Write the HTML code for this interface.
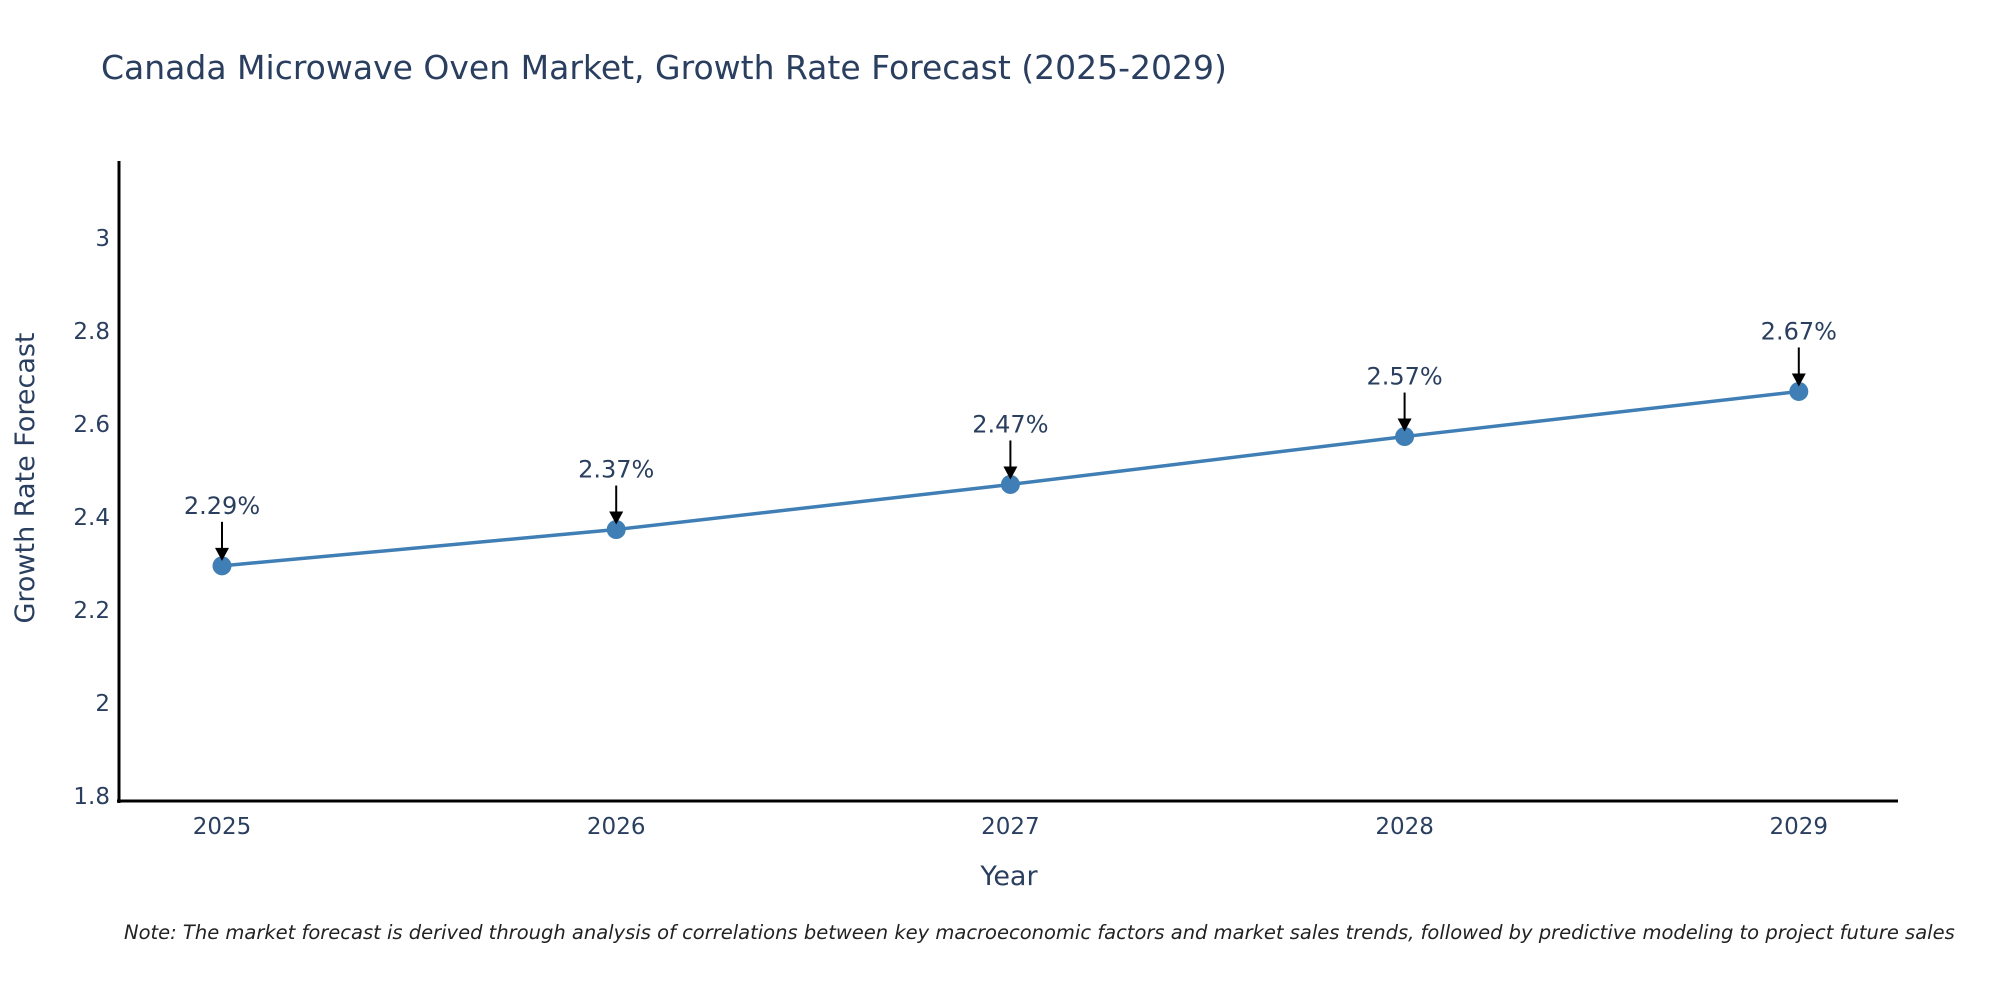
<!DOCTYPE html>
<html><head><meta charset="utf-8"><style>
body{margin:0;background:#fff;}
svg text{font-family:"DejaVu Sans","Liberation Sans",sans-serif;}
</style></head><body>
<svg id="chart" width="2000" height="1000" xmlns="http://www.w3.org/2000/svg">
<rect width="2000" height="1000" fill="#fff"/>
<text x="101" y="79" font-size="33" fill="#2a3f5f">Canada Microwave Oven Market, Growth Rate Forecast (2025-2029)</text>
<g id="yticks"></g><g id="xticks"></g>
<line x1="119" y1="161" x2="119" y2="803" stroke="#000" stroke-width="3"/>
<line x1="117" y1="801" x2="1898" y2="801" stroke="#000" stroke-width="3"/>
<text transform="translate(34,478) rotate(-90)" text-anchor="middle" font-size="27" fill="#2a3f5f">Growth Rate Forecast</text>
<text x="1009" y="885" text-anchor="middle" font-size="27" fill="#2a3f5f">Year</text>
<g id="series"></g>
<text x="124" y="939" font-size="19.5" font-style="italic" fill="#222">Note: The market forecast is derived through analysis of correlations between key macroeconomic factors and market sales trends, followed by predictive modeling to project future sales</text>
</svg>
<script>
const years = [2025, 2026, 2027, 2028, 2029];
const values = [2.295, 2.373, 2.47, 2.573, 2.67];
const labels = ["2.29%", "2.37%", "2.47%", "2.57%", "2.67%"];
const yTicks = [1.8, 2, 2.2, 2.4, 2.6, 2.8, 3];
const yTickLabels = ["1.8", "2", "2.2", "2.4", "2.6", "2.8", "3"];

const NS = "http://www.w3.org/2000/svg";
function xScale(yr){ return 222 + (yr - 2025) * 394.2; }
function yScale(v){ return 796 - (v - 1.8) * 465; }
function mk(tag, attrs, parent){ const e=document.createElementNS(NS,tag); for(const k in attrs) e.setAttribute(k,attrs[k]); parent.appendChild(e); return e; }

const yg=document.getElementById('yticks');
yTicks.forEach((t,i)=>{
  const e=mk('text',{x:110,y:yScale(t)+8,'text-anchor':'end','font-size':23,fill:'#2a3f5f'},yg);
  
  
  e.textContent=yTickLabels[i];
});
const xg=document.getElementById('xticks');
years.forEach(yr=>{
  const e=mk('text',{x:xScale(yr),y:834,'text-anchor':'middle','font-size':23,fill:'#2a3f5f'},xg);
  
  
  e.textContent=String(yr);
});
const sg=document.getElementById('series');
const pts=years.map((yr,i)=>xScale(yr)+','+yScale(values[i])).join(' ');
const line=mk('polyline',{points:pts,fill:'none',stroke:'#3f7fb5','stroke-width':3.5},sg);


years.forEach((yr,i)=>{
  const cx=xScale(yr), cy=yScale(values[i]);
  const c=mk('circle',{cx:cx,cy:cy,r:9.5,fill:'#3f7fb5'},sg);
  
  
  const a=mk('line',{x1:cx,y1:cy-44,x2:cx,y2:cy-16,stroke:'#000','stroke-width':2},sg);
  
  
  const h=mk('polygon',{points:(cx-7)+','+(cy-18)+' '+(cx+7)+','+(cy-18)+' '+cx+','+(cy-5),fill:'#000'},sg);
  
  
  const t=mk('text',{x:cx,y:cy-52,'text-anchor':'middle','font-size':24,fill:'#2a3f5f'},sg);
  
  
  t.textContent=labels[i];
});
</script>
</body></html>
